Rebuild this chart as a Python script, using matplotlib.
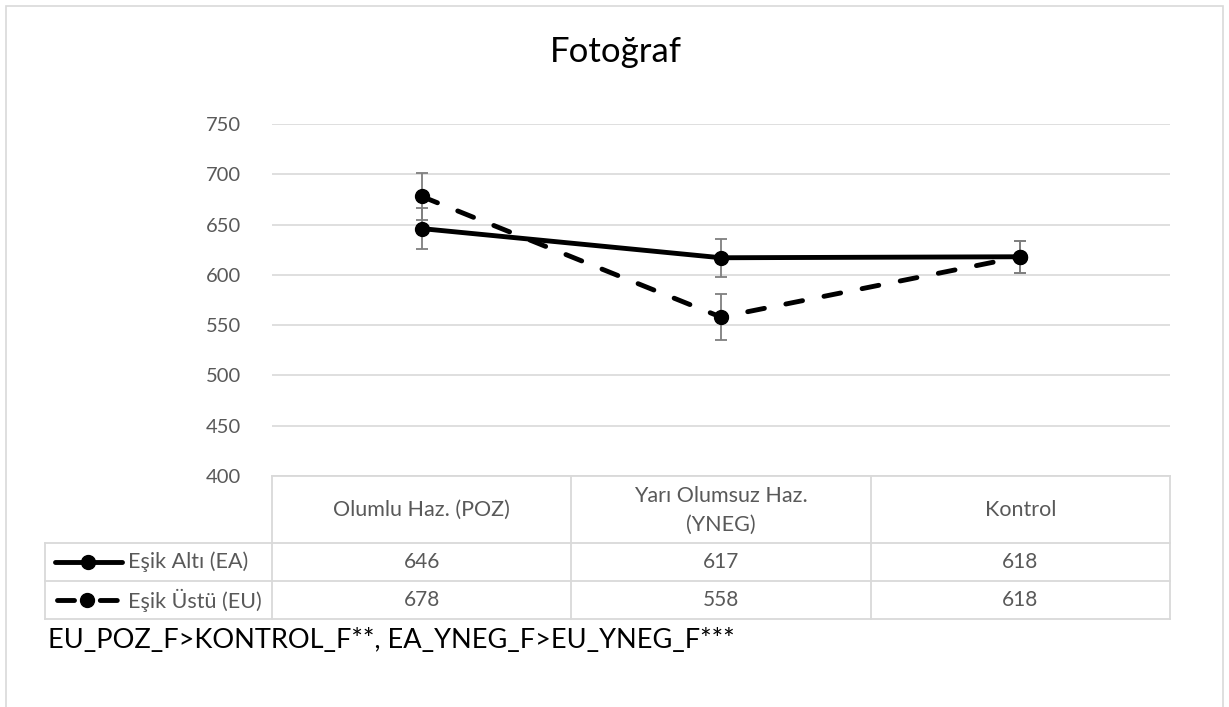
import matplotlib
matplotlib.use("Agg")
import matplotlib.pyplot as plt
from matplotlib.patches import Rectangle
from matplotlib.lines import Line2D

plt.rcParams['font.family'] = ['Lato', 'DejaVu Sans']

title = "Fotoğraf"
categories = ["Olumlu Haz. (POZ)", "Yarı Olumsuz Haz.\n(YNEG)", "Kontrol"]
series_names = ["Eşik Altı (EA)", "Eşik Üstü (EU)"]
ea_values = [646, 617, 618]
eu_values = [678, 558, 618]
ea_err = [20, 19, 16]
eu_err = [23, 23, 16]
yticks = [400, 450, 500, 550, 600, 650, 700, 750]
footnote = "EU_POZ_F>KONTROL_F**, EA_YNEG_F>EU_YNEG_F***"

W, H = 1229, 707
fig = plt.figure(figsize=(W / 100, H / 100), dpi=100)

def box(l, t, r, b):
    return [l / W, 1 - b / H, (r - l) / W, (b - t) / H]

grid_c = "#d9d9d9"
text_c = "#595959"

# outer chart border
fig.patches.append(Rectangle((6 / W, -0.05), (1223 - 6) / W, 1.05 - 6 / H,
                             transform=fig.transFigure, fill=False,
                             edgecolor=grid_c, lw=1.2))

# main plot
ax = fig.add_axes(box(272, 124, 1170, 476))
ax.set_xlim(0, 3)
ax.set_ylim(400, 750)
ax.set_yticks(yticks)
for s in ax.spines.values():
    s.set_visible(False)
ax.tick_params(axis='y', length=0, labelsize=14.5, labelcolor=text_c, pad=22)
ax.set_xticks([])
ax.yaxis.grid(True, color=grid_c, lw=1.2)
ax.set_axisbelow(True)

xs = [i + 0.5 for i in range(len(categories))]
ax.errorbar(xs, ea_values, yerr=ea_err, fmt='none', ecolor='#7f7f7f',
            elinewidth=1.3, capsize=4.5, capthick=1.3, zorder=2, clip_on=False)
ax.errorbar(xs, eu_values, yerr=eu_err, fmt='none', ecolor='#7f7f7f',
            elinewidth=1.3, capsize=4.5, capthick=1.3, zorder=2, clip_on=False)
ax.plot(xs, ea_values, color='black', lw=3.5, marker='o', ms=10,
        solid_capstyle='round', zorder=3, clip_on=False)
ax.plot(xs, eu_values, color='black', lw=3.5, marker='o', ms=10,
        linestyle=(0, (3.5, 4.5)), dash_capstyle='round', zorder=3, clip_on=False)

fig.text(616 / W, 1 - 52 / H, title, ha='center', va='center', fontsize=25,
         color='black')

# data table
tx0 = -(272 - 45) / (1170 - 272) * 3
tax = fig.add_axes(box(45, 476, 1170, 619))
tax.set_xlim(tx0, 3)
tax.set_ylim(143, 0)
tax.axis('off')
lw_t = 1.3
tax.plot([0, 3], [0, 0], color=grid_c, lw=lw_t, clip_on=False)
for xv in range(4):
    tax.plot([xv, xv], [0, 143], color=grid_c, lw=lw_t, clip_on=False)
tax.plot([tx0, tx0], [67, 143], color=grid_c, lw=lw_t, clip_on=False)
for yv in [67, 105, 143]:
    tax.plot([tx0, 3], [yv, yv], color=grid_c, lw=lw_t, clip_on=False)

for i, c in enumerate(categories):
    tax.text(i + 0.5, 34, c, ha='center', va='center', fontsize=15.5,
             color=text_c, linespacing=1.55)

px = 3 / (1170 - 272)
rows = [(ea_values, '-', 86, 10, 77), (eu_values, (0, (3.5, 5.3)), 124, 12.4, 72.6)]
for (vals, ls, yc, k0, k1), name in zip(rows, series_names):
    for i, v in enumerate(vals):
        tax.text(i + 0.5, yc, f"{v}", ha='center', va='center', fontsize=15,
                 color=text_c)
    kx0 = tx0 + k0 * px
    kx1 = tx0 + k1 * px
    tax.add_line(Line2D([kx0, kx1], [yc, yc], color='black', lw=3.5,
                        linestyle=ls, dash_capstyle='round',
                        solid_capstyle='round', clip_on=False))
    tax.add_line(Line2D([(kx0 + kx1) / 2], [yc], color='black', marker='o',
                        ms=10, clip_on=False))
    tax.text(tx0 + 83 * px, yc, name, ha='left', va='center', fontsize=15.5,
             color=text_c)

fig.text(48 / W, 1 - 641 / H, footnote, ha='left', va='center', fontsize=19.5,
         color='black')

fig.savefig("out.png", dpi=100)
